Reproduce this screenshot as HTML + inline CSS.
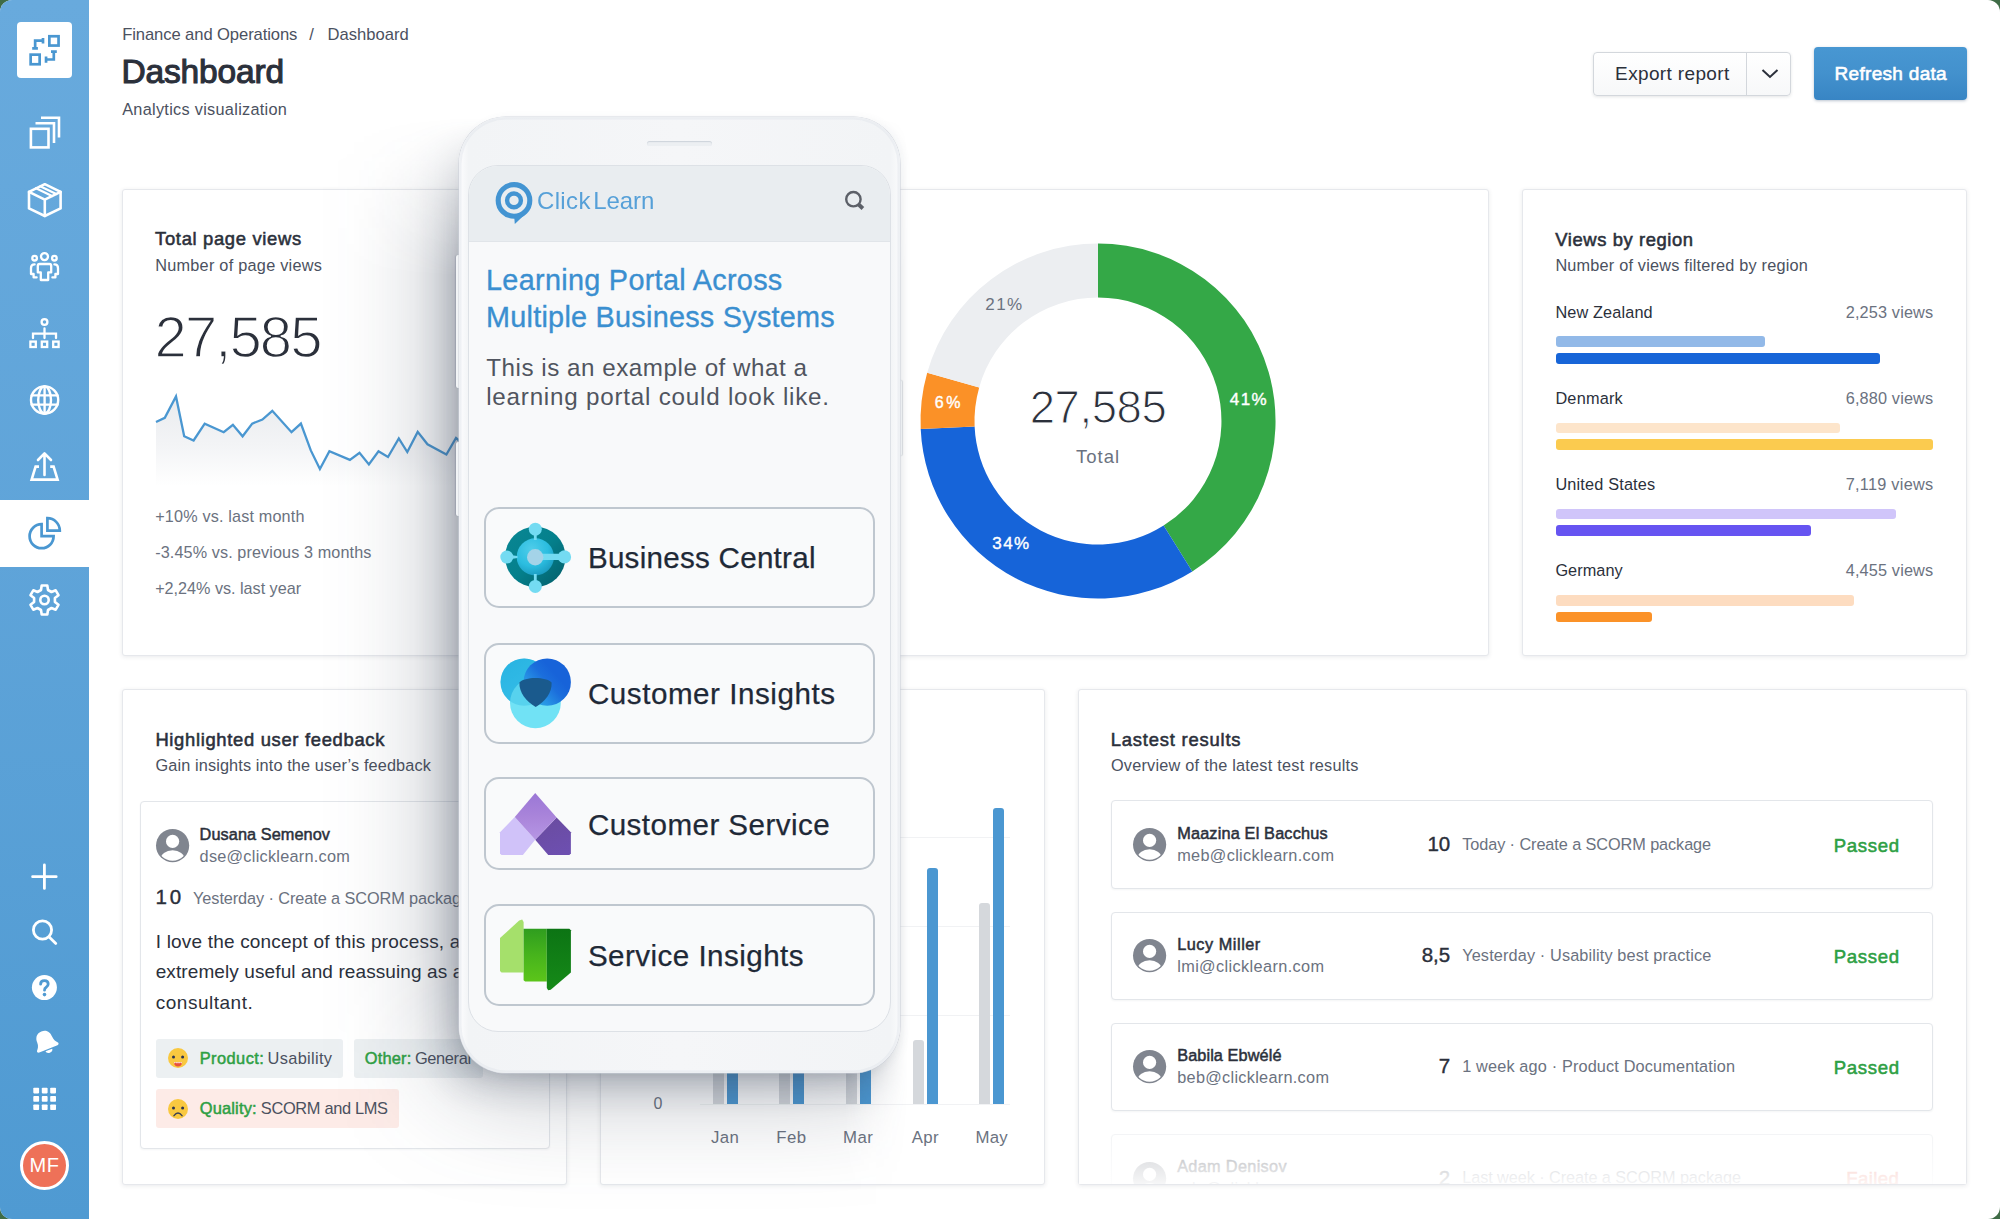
<!DOCTYPE html>
<html>
<head>
<meta charset="utf-8">
<title>Dashboard</title>
<style>
*{box-sizing:border-box;margin:0;padding:0}
html,body{width:2000px;height:1219px;overflow:hidden;background:#3f6c46;font-family:"Liberation Sans",sans-serif;color:#2b303b}
#app{position:absolute;left:0;top:0;width:2000px;height:1219px;background:#fff;border-radius:12px;overflow:hidden}
.abs{position:absolute}
.t{position:absolute;white-space:nowrap}
svg{overflow:visible}
#side{position:absolute;left:0;top:0;width:89px;height:1219px;background:linear-gradient(180deg,#68aadd 0%,#5fa4d9 45%,#4f9ad2 100%)}
#side .logo{position:absolute;left:17px;top:22.4px;width:55px;height:55.4px;background:#fff;border-radius:4px}
#side .active{position:absolute;left:0;top:500px;width:89px;height:67px;background:#fff}
.ic{fill:none;stroke:#fff;stroke-width:2.6;stroke-linecap:round;stroke-linejoin:round}
.icb{fill:none;stroke:#4a97d1;stroke-width:2.6;stroke-linecap:butt;stroke-linejoin:miter}
#avatar{position:absolute;left:20px;top:1141px;width:49px;height:49px;border-radius:50%;background:#ee7158;border:3px solid #fff;color:#fff;font-size:20px;line-height:43px;text-align:center;letter-spacing:.5px}
.btn-exp{position:absolute;left:1593px;top:52px;width:198px;height:44px;border:1px solid #d3d7dc;border-radius:4px;background:linear-gradient(180deg,#fff,#f7f8f9);box-shadow:0 1px 3px rgba(40,50,60,.12)}
.btn-exp .d{position:absolute;left:152px;top:0;width:1px;height:42px;background:#d3d7dc}
.btn-ref{position:absolute;left:1814px;top:47px;width:153px;height:53px;border-radius:4px;background:linear-gradient(180deg,#4897d2 0%,#4391cd 50%,#3885c4 100%);box-shadow:0 1px 3px rgba(30,60,100,.3)}
.card{position:absolute;background:#fff;border:1px solid #e6e8ec;border-radius:3px;box-shadow:0 1px 4px rgba(40,50,70,.10)}
.box{position:absolute;background:#fff;border:1px solid #e3e6ea;border-radius:4px;box-shadow:0 1px 2px rgba(40,50,70,.05)}
.bar{position:absolute;border-radius:3px}
.tag{position:absolute;border-radius:3px}

</style>
</head>
<body>
<div id="app">
<!-- HEADER -->
<div class="t" style="top:23.7px;font-size:16.6px;line-height:21px;color:#4b5160;letter-spacing:-0.09px;left:122.2px;">Finance and Operations</div><div class="t" style="top:23.7px;font-size:16.6px;line-height:21px;color:#4b5160;left:309.2px;">/</div><div class="t" style="top:23.7px;font-size:16.6px;line-height:21px;color:#4b5160;letter-spacing:-0.02px;left:327.6px;">Dashboard</div><div class="t" style="top:51.4px;font-size:33.5px;line-height:42px;color:#2b303b;-webkit-text-stroke:1.1px #2b303b;letter-spacing:-0.15px;left:121.4px;">Dashboard</div><div class="t" style="top:99.0px;font-size:16.3px;line-height:20px;color:#4b5160;letter-spacing:0.29px;left:122.2px;">Analytics visualization</div><div class="btn-exp"><div class="d"></div><svg class="abs" style="left:166px;top:15px" width="20" height="12" viewBox="0 0 20 12"><path d="M2.5 2 L10 9 L17.5 2" fill="none" stroke="#2b303b" stroke-width="2"/></svg></div>
<div class="t" style="top:62.4px;font-size:19px;line-height:24px;color:#2b303b;letter-spacing:0.36px;left:1615.1px;">Export report</div><div class="btn-ref"></div>
<div class="t" style="top:62.4px;font-size:19px;line-height:24px;color:#fff;-webkit-text-stroke:0.6px #fff;letter-spacing:0.30px;left:1834.6px;">Refresh data</div>
<!-- CARD SHELLS -->
<div class="card" style="left:122px;top:189px;width:1367px;height:467px"></div>
<div class="card" style="left:1522px;top:189px;width:445px;height:467px"></div>
<div class="card" style="left:122px;top:689px;width:445px;height:496px"></div>
<div class="card" style="left:600px;top:689px;width:445px;height:496px"></div>
<div class="card" style="left:1078px;top:689px;width:889px;height:496px"></div>

<!-- CARD 1: total page views + donut -->
<div class="t" style="top:227.1px;font-size:18.4px;line-height:23px;color:#2b303b;-webkit-text-stroke:0.55px #2b303b;letter-spacing:0.67px;left:155.1px;">Total page views</div><div class="t" style="top:255.1px;font-size:16.3px;line-height:20px;color:#4b5160;letter-spacing:0.25px;left:155.2px;">Number of page views</div><div class="t" style="top:300.5px;font-size:58px;line-height:72px;color:#2b303b;letter-spacing:-1.91px;left:154.6px;-webkit-text-stroke:1.5px #fff;">27,585</div><div class="t" style="top:505.8px;font-size:16.2px;line-height:20px;color:#6b7280;letter-spacing:0.17px;left:155.2px;">+10% vs. last month</div><div class="t" style="top:542.1px;font-size:16.2px;line-height:20px;color:#6b7280;letter-spacing:0.11px;left:155.2px;">-3.45% vs. previous 3 months</div><div class="t" style="top:578.1px;font-size:16.2px;line-height:20px;color:#6b7280;letter-spacing:-0.02px;left:155.2px;">+2,24% vs. last year</div><svg class="abs" style="left:0;top:0" width="2000" height="1219" viewBox="0 0 2000 1219">
<defs><linearGradient id="spg" x1="0" y1="0" x2="0" y2="1"><stop offset="0" stop-color="#e9ebee"/><stop offset="0.55" stop-color="#f3f4f6"/><stop offset="1" stop-color="#ffffff"/></linearGradient></defs>
<path d="M156.0 422.0 L164.8 417.9 L176.0 396.4 L184.2 436.3 L193.6 440.5 L204.7 423.6 L223.7 432.2 L232.9 424.8 L242.6 436.3 L252.2 423.6 L262.4 419.5 L272.3 410.8 L291.5 432.2 L300.9 423.6 L310.8 450.4 L319.9 469.0 L329.4 451.2 L349.9 459.9 L359.5 452.8 L368.9 464.4 L378.5 451.2 L388.0 457.0 L398.8 438.5 L407.3 452.0 L417.7 431.9 L427.5 444.3 L446.4 454.5 L456.0 438.0 L466.0 446.0 L476.0 436.0 L476 486 L156 486 Z" fill="url(#spg)"/>
<path d="M156.0 422.0 L164.8 417.9 L176.0 396.4 L184.2 436.3 L193.6 440.5 L204.7 423.6 L223.7 432.2 L232.9 424.8 L242.6 436.3 L252.2 423.6 L262.4 419.5 L272.3 410.8 L291.5 432.2 L300.9 423.6 L310.8 450.4 L319.9 469.0 L329.4 451.2 L349.9 459.9 L359.5 452.8 L368.9 464.4 L378.5 451.2 L388.0 457.0 L398.8 438.5 L407.3 452.0 L417.7 431.9 L427.5 444.3 L446.4 454.5 L456.0 438.0 L466.0 446.0 L476.0 436.0" fill="none" stroke="#4a97d1" stroke-width="2.3" stroke-linejoin="miter"/>
<path d="M1098.0 243.5 A177.5 177.5 0 0 1 1192.3 571.4 L1163.6 525.6 A123.5 123.5 0 0 0 1098.0 297.5 Z" fill="#34a847"/>
<path d="M1192.3 571.4 A177.5 177.5 0 0 1 920.7 429.1 L974.6 426.6 A123.5 123.5 0 0 0 1163.6 525.6 Z" fill="#1664d9"/>
<path d="M920.7 429.1 A177.5 177.5 0 0 1 927.2 372.7 L979.2 387.4 A123.5 123.5 0 0 0 974.6 426.6 Z" fill="#fb9127"/>
<path d="M927.2 372.7 A177.5 177.5 0 0 1 1098.0 243.5 L1098.0 297.5 A123.5 123.5 0 0 0 979.2 387.4 Z" fill="#eceef1"/>
</svg>
<div class="t" style="top:379.2px;font-size:45.5px;line-height:57px;color:#2b303b;letter-spacing:-0.43px;left:1098.0px;transform:translateX(-50%);-webkit-text-stroke:1.1px #fff;">27,585</div><div class="t" style="top:445.1px;font-size:18.5px;line-height:23px;color:#6b7280;letter-spacing:0.99px;left:1098.0px;transform:translateX(-50%);">Total</div><div class="t" style="top:389.1px;font-size:17px;line-height:21px;color:#fff;-webkit-text-stroke:0.4px #fff;letter-spacing:1.42px;left:1249.0px;transform:translateX(-50%);">41%</div><div class="t" style="top:533.1px;font-size:17px;line-height:21px;color:#fff;-webkit-text-stroke:0.4px #fff;letter-spacing:1.42px;left:1011.5px;transform:translateX(-50%);">34%</div><div class="t" style="top:393.0px;font-size:16px;line-height:20px;color:#fff;-webkit-text-stroke:0.4px #fff;letter-spacing:2.64px;left:949.0px;transform:translateX(-50%);">6%</div><div class="t" style="top:294.1px;font-size:17px;line-height:21px;color:#6b7280;letter-spacing:1.42px;left:1004.5px;transform:translateX(-50%);">21%</div>
<!-- CARD 2: views by region -->
<div class="t" style="top:228.0px;font-size:18.4px;line-height:23px;color:#2b303b;-webkit-text-stroke:0.55px #2b303b;letter-spacing:0.59px;left:1555.3px;">Views by region</div><div class="t" style="top:254.9px;font-size:16.3px;line-height:20px;color:#4b5160;letter-spacing:0.19px;left:1555.4px;">Number of views filtered by region</div><div class="t" style="top:302.1px;font-size:16.3px;line-height:20px;color:#2b303b;letter-spacing:0.13px;left:1555.4px;">New Zealand</div><div class="t" style="top:302.1px;font-size:16.3px;line-height:20px;color:#6b7280;letter-spacing:0.15px;right:66.7px;">2,253 views</div><div class="bar" style="left:1555.7px;top:336.3px;width:209.6px;height:10.8px;background:#92b9e8"></div><div class="bar" style="left:1555.7px;top:353.1px;width:324.8px;height:10.8px;background:#1765d8"></div>
<div class="t" style="top:388.2px;font-size:16.3px;line-height:20px;color:#2b303b;letter-spacing:0.22px;left:1555.4px;">Denmark</div><div class="t" style="top:388.2px;font-size:16.3px;line-height:20px;color:#6b7280;letter-spacing:0.15px;right:66.7px;">6,880 views</div><div class="bar" style="left:1555.7px;top:422.5px;width:284.8px;height:10.8px;background:#fde5cb"></div><div class="bar" style="left:1555.7px;top:439.3px;width:377.6px;height:10.8px;background:#fbcb4f"></div>
<div class="t" style="top:474.4px;font-size:16.3px;line-height:20px;color:#2b303b;letter-spacing:0.17px;left:1555.4px;">United States</div><div class="t" style="top:474.4px;font-size:16.3px;line-height:20px;color:#6b7280;letter-spacing:0.27px;right:66.6px;">7,119 views</div><div class="bar" style="left:1555.7px;top:508.6px;width:340px;height:10.8px;background:#d0c5fa"></div><div class="bar" style="left:1555.7px;top:525.4px;width:255px;height:10.8px;background:#6654f1"></div>
<div class="t" style="top:560.4px;font-size:16.3px;line-height:20px;color:#2b303b;letter-spacing:0.07px;left:1555.4px;">Germany</div><div class="t" style="top:560.4px;font-size:16.3px;line-height:20px;color:#6b7280;letter-spacing:0.15px;right:66.7px;">4,455 views</div><div class="bar" style="left:1555.7px;top:594.8px;width:298.2px;height:10.8px;background:#fddcc0"></div><div class="bar" style="left:1555.7px;top:611.5px;width:96.8px;height:10.8px;background:#fb9228"></div>

<!-- CARD 3: highlighted user feedback -->
<div class="t" style="top:727.7px;font-size:18.4px;line-height:23px;color:#2b303b;-webkit-text-stroke:0.55px #2b303b;letter-spacing:0.68px;left:155.4px;">Highlighted user feedback</div><div class="t" style="top:754.5px;font-size:16.3px;line-height:20px;color:#4b5160;letter-spacing:0.12px;left:155.5px;">Gain insights into the user&rsquo;s feedback</div><svg class="abs" width="0" height="0"><defs><clipPath id="avc"><circle cx="0" cy="0" r="15.2"/></clipPath></defs></svg><div class="box" style="left:139.5px;top:800.5px;width:410.5px;height:348.5px"></div>
<svg class="abs" style="left:155.8px;top:829.3px;opacity:1" width="33.2" height="33.2" viewBox="-16.6 -16.6 33.2 33.2"><circle cx="0" cy="0" r="16.6" fill="#80858f"/><circle cx="0" cy="-4.2" r="6.6" fill="#fff"/><ellipse cx="0" cy="14.2" rx="12.2" ry="9.6" fill="#fff" clip-path="url(#avc)"/></svg>
<div class="t" style="top:824.2px;font-size:16.3px;line-height:20px;color:#2b303b;-webkit-text-stroke:0.5px #2b303b;letter-spacing:0.07px;left:199.6px;">Dusana Semenov</div><div class="t" style="top:846.1px;font-size:16.3px;line-height:20px;color:#6b7280;letter-spacing:0.25px;left:199.6px;">dse@clicklearn.com</div><div class="t" style="top:883.6px;font-size:20.5px;line-height:26px;color:#2b303b;-webkit-text-stroke:0.4px #2b303b;letter-spacing:2.74px;left:155.6px;">10</div><div class="t" style="top:888.1px;font-size:16.3px;line-height:20px;color:#6b7280;letter-spacing:-0.09px;left:193.1px;">Yesterday &middot; Create a SCORM package</div><div class="t" style="top:929.7px;font-size:19px;line-height:24px;color:#2b303b;letter-spacing:0.19px;left:155.7px;">I love the concept of this process, and</div><div class="t" style="top:960.3px;font-size:19px;line-height:24px;color:#2b303b;letter-spacing:0.10px;left:155.7px;">extremely useful and reassuing as a</div><div class="t" style="top:990.9px;font-size:19px;line-height:24px;color:#2b303b;letter-spacing:0.52px;left:155.7px;">consultant.</div><div class="tag" style="left:155.9px;top:1039px;width:187.2px;height:38.8px;background:#ecf0f2"></div><div class="tag" style="left:354.3px;top:1039px;width:128.5px;height:38.8px;background:#ecf0f2"></div><div class="tag" style="left:155.9px;top:1089.2px;width:243px;height:38.6px;background:#fdebe7"></div>
<svg class="abs" style="left:167.9px;top:1048.4px" width="20" height="20" viewBox="-10 -10 20 20"><circle r="10" fill="#f9c840"/><circle cx="-4.5" cy="-0.9" r="1.5" fill="#2c3350"/><circle cx="4.6" cy="-0.9" r="1.5" fill="#2c3350"/><path d="M-4.2 4.2 H4.2 Q3.6 8.6 0 8.6 Q-3.6 8.6 -4.2 4.2 Z" fill="#e8503c"/><path d="M-4.2 4.2 H4.2 L3.4 5.6 L2.2 4.4 L1 5.6 L0 4.4 L-1 5.6 L-2.2 4.4 L-3.4 5.6 Z" fill="#fff"/></svg>
<svg class="abs" style="left:167.9px;top:1098.8px" width="20" height="20" viewBox="-10 -10 20 20"><circle r="10" fill="#f9c840"/><circle cx="-4.5" cy="-0.9" r="1.5" fill="#2c3350"/><circle cx="4.6" cy="-0.9" r="1.5" fill="#2c3350"/><path d="M-4 6.6 Q0 1.6 4 6.6" fill="none" stroke="#3a3f55" stroke-width="1.5" stroke-linecap="round"/></svg>
<div class="t" style="top:1047.7px;font-size:16.4px;line-height:20px;color:#2ea044;-webkit-text-stroke:0.5px #2ea044;letter-spacing:0.44px;left:199.7px;">Product:</div><div class="t" style="top:1047.7px;font-size:16.4px;line-height:20px;color:#4b5160;letter-spacing:0.31px;left:267.6px;">Usability</div><div class="t" style="top:1047.7px;font-size:16.4px;line-height:20px;color:#2ea044;-webkit-text-stroke:0.5px #2ea044;letter-spacing:0.17px;left:364.8px;">Other:</div><div class="t" style="top:1047.7px;font-size:16.4px;line-height:20px;color:#4b5160;letter-spacing:-0.38px;left:415.0px;">General</div><div class="t" style="top:1097.9px;font-size:16.4px;line-height:20px;color:#2ea044;-webkit-text-stroke:0.5px #2ea044;letter-spacing:0.19px;left:199.7px;">Quality:</div><div class="t" style="top:1097.9px;font-size:16.4px;line-height:20px;color:#4b5160;letter-spacing:-0.33px;left:260.8px;">SCORM and LMS</div>
<!-- CARD 4: bar chart -->
<div class="t" style="top:727.7px;font-size:18.4px;line-height:23px;color:#2b303b;-webkit-text-stroke:0.55px #2b303b;letter-spacing:0.54px;left:633.1px;">Monthly views</div><div class="t" style="top:754.5px;font-size:16.3px;line-height:20px;color:#4b5160;letter-spacing:0.06px;left:633.2px;">Views per month</div><div class="abs" style="left:700px;top:837.0px;width:310px;height:1px;background:#f1f2f4"></div><div class="abs" style="left:700px;top:926.0px;width:310px;height:1px;background:#f1f2f4"></div><div class="abs" style="left:700px;top:1015.0px;width:310px;height:1px;background:#f1f2f4"></div><div class="abs" style="left:700px;top:1104.1px;width:310px;height:1px;background:#f1f2f4"></div>
<div class="t" style="top:1093.8px;font-size:16px;line-height:20px;color:#6b7280;right:1337.7px;">0</div><div class="t" style="top:1004.8px;font-size:16px;line-height:20px;color:#6b7280;right:1337.7px;">50</div><div class="t" style="top:915.8px;font-size:16px;line-height:20px;color:#6b7280;right:1337.7px;">100</div><div class="t" style="top:826.8px;font-size:16px;line-height:20px;color:#6b7280;right:1337.7px;">150</div><div class="abs" style="left:712.7px;top:1020.0px;width:11px;height:84.4px;background:#d5d8dc;border-radius:3px 3px 0 0"></div><div class="abs" style="left:726.6px;top:1000.0px;width:11px;height:104.4px;background:#4b97d1;border-radius:3px 3px 0 0"></div>
<div class="abs" style="left:779.4px;top:1040.0px;width:11px;height:64.4px;background:#d5d8dc;border-radius:3px 3px 0 0"></div><div class="abs" style="left:793.3px;top:985.0px;width:11px;height:119.4px;background:#4b97d1;border-radius:3px 3px 0 0"></div>
<div class="abs" style="left:846.2px;top:1030.0px;width:11px;height:74.4px;background:#d5d8dc;border-radius:3px 3px 0 0"></div><div class="abs" style="left:860.1px;top:940.0px;width:11px;height:164.4px;background:#4b97d1;border-radius:3px 3px 0 0"></div>
<div class="abs" style="left:912.8px;top:1040.4px;width:11px;height:64.0px;background:#d5d8dc;border-radius:3px 3px 0 0"></div><div class="abs" style="left:926.7px;top:868.2px;width:11px;height:236.2px;background:#4b97d1;border-radius:3px 3px 0 0"></div>
<div class="abs" style="left:979.3px;top:903.2px;width:11px;height:201.2px;background:#d5d8dc;border-radius:3px 3px 0 0"></div><div class="abs" style="left:993.2px;top:808.4px;width:11px;height:296.0px;background:#4b97d1;border-radius:3px 3px 0 0"></div>
<div class="t" style="top:1127.4px;font-size:16.8px;line-height:21px;color:#6b7280;letter-spacing:0.39px;left:725.0px;transform:translateX(-50%);">Jan</div><div class="t" style="top:1127.4px;font-size:16.8px;line-height:21px;color:#6b7280;letter-spacing:0.46px;left:791.4px;transform:translateX(-50%);">Feb</div><div class="t" style="top:1127.4px;font-size:16.8px;line-height:21px;color:#6b7280;letter-spacing:0.47px;left:858.2px;transform:translateX(-50%);">Mar</div><div class="t" style="top:1127.4px;font-size:16.8px;line-height:21px;color:#6b7280;letter-spacing:0.46px;left:925.4px;transform:translateX(-50%);">Apr</div><div class="t" style="top:1127.4px;font-size:16.8px;line-height:21px;color:#6b7280;letter-spacing:0.27px;left:991.7px;transform:translateX(-50%);">May</div>
<!-- CARD 5: latest results -->
<div class="t" style="top:727.9px;font-size:18.4px;line-height:23px;color:#2b303b;-webkit-text-stroke:0.55px #2b303b;letter-spacing:0.80px;left:1110.8px;">Lastest results</div><div class="t" style="top:754.6px;font-size:16.3px;line-height:20px;color:#4b5160;letter-spacing:0.23px;left:1110.9px;">Overview of the latest test results</div><div class="abs" style="left:1079px;top:690px;width:887px;height:494px;overflow:hidden">
<div class="abs" style="left:-1079px;top:-690px;width:2000px;height:1219px">
<div class="box" style="left:1110.9px;top:800.4px;width:822.2px;height:88.2px"></div>
<svg class="abs" style="left:1133.4px;top:828.0px;opacity:1" width="33.2" height="33.2" viewBox="-16.6 -16.6 33.2 33.2"><circle cx="0" cy="0" r="16.6" fill="#80858f"/><circle cx="0" cy="-4.2" r="6.6" fill="#fff"/><ellipse cx="0" cy="14.2" rx="12.2" ry="9.6" fill="#fff" clip-path="url(#avc)"/></svg>
<div class="t" style="top:823.0px;font-size:16.3px;line-height:20px;color:#2b303b;-webkit-text-stroke:0.5px #2b303b;letter-spacing:0.17px;left:1177.2px;">Maazina El Bacchus</div><div class="t" style="top:845.0px;font-size:16.3px;line-height:20px;color:#6b7280;letter-spacing:0.32px;left:1177.2px;">meb@clicklearn.com</div><div class="t" style="top:831.1px;font-size:20.5px;line-height:26px;color:#2b303b;-webkit-text-stroke:0.4px #2b303b;right:549.8px;">10</div><div class="t" style="top:834.0px;font-size:16.3px;line-height:20px;color:#6b7280;letter-spacing:-0.09px;left:1462.2px;">Today &middot; Create a SCORM package</div><div class="t" style="top:833.7px;font-size:18.6px;line-height:23px;color:#2ea044;-webkit-text-stroke:0.55px #2ea044;letter-spacing:0.66px;left:1833.7px;">Passed</div><div class="box" style="left:1110.9px;top:911.5px;width:822.2px;height:88.2px"></div>
<svg class="abs" style="left:1133.4px;top:939.1px;opacity:1" width="33.2" height="33.2" viewBox="-16.6 -16.6 33.2 33.2"><circle cx="0" cy="0" r="16.6" fill="#80858f"/><circle cx="0" cy="-4.2" r="6.6" fill="#fff"/><ellipse cx="0" cy="14.2" rx="12.2" ry="9.6" fill="#fff" clip-path="url(#avc)"/></svg>
<div class="t" style="top:934.1px;font-size:16.3px;line-height:20px;color:#2b303b;-webkit-text-stroke:0.5px #2b303b;letter-spacing:0.53px;left:1177.2px;">Lucy Miller</div><div class="t" style="top:956.1px;font-size:16.3px;line-height:20px;color:#6b7280;letter-spacing:0.38px;left:1177.2px;">lmi@clicklearn.com</div><div class="t" style="top:942.2px;font-size:20.5px;line-height:26px;color:#2b303b;-webkit-text-stroke:0.4px #2b303b;right:549.8px;">8,5</div><div class="t" style="top:945.1px;font-size:16.3px;line-height:20px;color:#6b7280;letter-spacing:0.13px;left:1462.2px;">Yesterday &middot; Usability best practice</div><div class="t" style="top:944.8px;font-size:18.6px;line-height:23px;color:#2ea044;-webkit-text-stroke:0.55px #2ea044;letter-spacing:0.66px;left:1833.7px;">Passed</div><div class="box" style="left:1110.9px;top:1022.7px;width:822.2px;height:88.2px"></div>
<svg class="abs" style="left:1133.4px;top:1050.3px;opacity:1" width="33.2" height="33.2" viewBox="-16.6 -16.6 33.2 33.2"><circle cx="0" cy="0" r="16.6" fill="#80858f"/><circle cx="0" cy="-4.2" r="6.6" fill="#fff"/><ellipse cx="0" cy="14.2" rx="12.2" ry="9.6" fill="#fff" clip-path="url(#avc)"/></svg>
<div class="t" style="top:1045.3px;font-size:16.3px;line-height:20px;color:#2b303b;-webkit-text-stroke:0.5px #2b303b;letter-spacing:0.09px;left:1177.2px;">Babila Ebw&eacute;l&eacute;</div><div class="t" style="top:1067.3px;font-size:16.3px;line-height:20px;color:#6b7280;letter-spacing:0.29px;left:1177.2px;">beb@clicklearn.com</div><div class="t" style="top:1053.4px;font-size:20.5px;line-height:26px;color:#2b303b;-webkit-text-stroke:0.4px #2b303b;right:549.8px;">7</div><div class="t" style="top:1056.3px;font-size:16.3px;line-height:20px;color:#6b7280;letter-spacing:0.15px;left:1462.2px;">1 week ago &middot; Product Documentation</div><div class="t" style="top:1056.0px;font-size:18.6px;line-height:23px;color:#2ea044;-webkit-text-stroke:0.55px #2ea044;letter-spacing:0.66px;left:1833.7px;">Passed</div><div class="box" style="left:1110.9px;top:1133.8px;width:822.2px;height:88.2px"></div>
<svg class="abs" style="left:1133.4px;top:1161.5px;opacity:1" width="33.2" height="33.2" viewBox="-16.6 -16.6 33.2 33.2"><circle cx="0" cy="0" r="16.6" fill="#80858f"/><circle cx="0" cy="-4.2" r="6.6" fill="#fff"/><ellipse cx="0" cy="14.2" rx="12.2" ry="9.6" fill="#fff" clip-path="url(#avc)"/></svg>
<div class="t" style="top:1156.4px;font-size:16.3px;line-height:20px;color:#2b303b;-webkit-text-stroke:0.5px #2b303b;letter-spacing:0.32px;left:1177.2px;">Adam Denisov</div><div class="t" style="top:1178.4px;font-size:16.3px;line-height:20px;color:#6b7280;letter-spacing:0.29px;left:1177.2px;">ade@clicklearn.com</div><div class="t" style="top:1164.5px;font-size:20.5px;line-height:26px;color:#2b303b;-webkit-text-stroke:0.4px #2b303b;right:549.8px;">2</div><div class="t" style="top:1167.4px;font-size:16.3px;line-height:20px;color:#6b7280;letter-spacing:-0.08px;left:1462.2px;">Last week &middot; Create a SCORM package</div><div class="t" style="top:1167.1px;font-size:18.6px;line-height:23px;color:#e5533d;-webkit-text-stroke:0.55px #e5533d;letter-spacing:0.40px;left:1846.3px;">Failed</div><div class="abs" style="left:1079px;top:1112px;width:887px;height:72px;background:linear-gradient(180deg,rgba(255,255,255,0) 0%,rgba(255,255,255,.56) 28%,rgba(255,255,255,.79) 72%,rgba(255,255,255,.93) 100%)"></div>
</div></div>

<!-- SIDEBAR -->
<div id="side"><div class="logo"></div><div class="active"></div>
<svg class="abs" style="left:0;top:0" width="89" height="1219" viewBox="0 0 89 1219">
<!-- logo -->
<g class="icb" style="stroke-width:2.7">
<rect x="49.35" y="36.25" width="9.2" height="9.3"/>
<rect x="30.65" y="54.65" width="9.0" height="9.6"/>
<path d="M32.2 48.4 H37.9 M35.15 48.4 V40.6 H43 M43 37.9 V43.5"/>
<path d="M51 51.7 H56.8 M53.8 51.7 V59.5 H46 M46.05 56.6 V62.7"/>
</g>
<!-- stacked squares -->
<g class="ic" style="stroke-linejoin:miter;stroke-linecap:butt">
<rect x="30.9" y="128.8" width="17.6" height="18.6"/>
<path d="M35.5 123.2 H54 V143"/>
<path d="M41 117.8 H59 V137.5"/>
</g>
<!-- box -->
<g class="ic">
<path d="M44.8 184.2 L60.6 191.8 V208.4 L44.8 216 L29 208.4 V191.8 Z"/>
<path d="M29 191.8 L44.8 199.6 L60.6 191.8 M44.8 199.6 V216"/>
<path d="M36 188.2 L52 196 M40.2 186.3 L56.2 194" style="stroke-width:2.2"/>
</g>
<!-- people -->
<g class="ic" style="stroke-width:2.3">
<circle cx="44.5" cy="256.6" r="3.5"/>
<circle cx="34.6" cy="258.2" r="2.3"/>
<circle cx="54.4" cy="258.2" r="2.3"/>
<path d="M39.6 264 H49.4 Q51.2 264 51.2 265.8 V272.4 H48.2 V280 H40.8 V272.4 H37.8 V265.8 Q37.8 264 39.6 264 Z"/>
<path d="M34.6 264.4 Q31 264.4 31 268 V274 H33.6 V277.4 H36.6"/>
<path d="M54.4 264.4 Q58 264.4 58 268 V274 H55.4 V277.4 H52.4"/>
</g>
<!-- org chart -->
<g class="ic" style="stroke-width:2.3;stroke-linejoin:miter">
<circle cx="44.5" cy="322" r="2.9"/>
<path d="M44.5 328.5 V338 M33 338 V333.6 H56 V338"/>
<rect x="30.4" y="341.6" width="5.4" height="5.4"/>
<rect x="41.8" y="341.6" width="5.4" height="5.4"/>
<rect x="53.2" y="341.6" width="5.4" height="5.4"/>
</g>
<!-- globe -->
<g class="ic" style="stroke-width:2.4">
<circle cx="44.6" cy="400" r="13.6"/>
<ellipse cx="44.6" cy="400" rx="6.4" ry="13.6"/>
<path d="M44.6 386.4 V413.6 M31.6 395.4 H57.6 M31.6 404.6 H57.6"/>
</g>
<!-- upload -->
<g class="ic" style="stroke-linejoin:miter;stroke-linecap:butt">
<path d="M44.5 475 V454 M38 460 L44.5 453.4 L51 460" style="stroke-linecap:round;stroke-linejoin:round"/>
<path d="M39 466.6 H35.6 L31.6 479.6 H57.6 L53.6 466.6 H50.2"/>
</g>
<!-- pie (active) -->
<g class="icb" style="stroke-width:2.7">
<path d="M41.6 524.2 A12 12 0 1 0 53.6 536.2 H41.6 Z"/>
<path d="M47.4 530.6 V518.2 A12.4 12.4 0 0 1 59.8 530.6 Z"/>
</g>
<!-- gear -->
<g class="ic" style="stroke-width:2.6">
<path d="M41.0 590.0 L41.7 585.5 L47.3 585.5 L48.0 590.0 L51.5 592.0 L55.7 590.3 L58.5 595.2 L54.9 598.0 L54.9 602.0 L58.5 604.8 L55.7 609.7 L51.5 608.0 L48.0 610.0 L47.3 614.5 L41.7 614.5 L41.0 610.0 L37.5 608.0 L33.3 609.7 L30.5 604.8 L34.1 602.0 L34.1 598.0 L30.5 595.2 L33.3 590.3 L37.5 592.0Z"/>
<circle cx="44.5" cy="600" r="4.2"/>
</g>
<!-- plus -->
<g class="ic" style="stroke-width:2.8">
<path d="M44.4 865 V888.4 M32.6 876.7 H56.2"/>
</g>
<!-- search -->
<g class="ic" style="stroke-width:2.8">
<circle cx="42.5" cy="930" r="9.1"/>
<path d="M49.4 937.2 L55.8 943.4"/>
</g>
<!-- help -->
<circle cx="44.4" cy="987.6" r="12.5" fill="#fff"/>
<path d="M40.6 984.2 Q40.6 980.6 44.4 980.6 Q48.2 980.6 48.2 984 Q48.2 986 46.2 987.2 Q44.5 988.2 44.5 990.2" fill="none" stroke="#4f9ad2" stroke-width="2.8" stroke-linecap="round"/>
<circle cx="44.5" cy="994.6" r="1.8" fill="#4f9ad2"/>
<!-- bell -->
<g transform="rotate(-22 45.6 1042)" fill="#fff">
<path d="M45.6 1030.6 C51.4 1030.6 53.6 1035 53.6 1039.4 C53.6 1043.4 55.4 1045.4 56.6 1046.6 C57.6 1047.6 57.2 1049.4 55.4 1049.4 H35.8 C34 1049.4 33.6 1047.6 34.6 1046.6 C35.8 1045.4 37.6 1043.4 37.6 1039.4 C37.6 1035 39.8 1030.6 45.6 1030.6 Z"/>
<path d="M42 1050.6 H49.2 C49.2 1054.4 42 1054.4 42 1050.6 Z"/>
</g>
<!-- grid -->
<g fill="#fff">
<rect x="33.3" y="1087.8" width="5.8" height="5.6" rx="0.8"/><rect x="41.8" y="1087.8" width="5.8" height="5.6" rx="0.8"/><rect x="50.2" y="1087.8" width="5.8" height="5.6" rx="0.8"/><rect x="33.3" y="1096.1" width="5.8" height="5.6" rx="0.8"/><rect x="41.8" y="1096.1" width="5.8" height="5.6" rx="0.8"/><rect x="50.2" y="1096.1" width="5.8" height="5.6" rx="0.8"/><rect x="33.3" y="1104.4" width="5.8" height="5.6" rx="0.8"/><rect x="41.8" y="1104.4" width="5.8" height="5.6" rx="0.8"/><rect x="50.2" y="1104.4" width="5.8" height="5.6" rx="0.8"/></g>
</svg>
<div id="avatar">MF</div>
</div>

<!-- PHONE -->
<div class="abs" style="left:0;top:0;width:2000px;height:1219px;-webkit-mask-image:linear-gradient(180deg,transparent 118px,rgba(0,0,0,.22) 150px,rgba(0,0,0,.6) 200px,#000 275px);mask-image:linear-gradient(180deg,transparent 118px,rgba(0,0,0,.22) 150px,rgba(0,0,0,.6) 200px,#000 275px)">
<div class="abs" style="left:0;top:0;width:2000px;height:1219px;-webkit-mask-image:linear-gradient(90deg,#000 0,#000 845px,transparent 908px);mask-image:linear-gradient(90deg,#000 0,#000 845px,transparent 908px)">
<div class="abs" style="left:459px;top:117px;width:440.5px;height:955.5px;border-radius:14px;background:rgba(46,58,78,.43);filter:blur(22px)"></div>
<div class="abs" style="left:459px;top:117px;width:440.5px;height:955.5px;border-radius:14px;background:rgba(46,58,78,.45);filter:blur(60px)"></div>
</div></div>
<div class="abs" style="left:455.6px;top:255px;width:6px;height:133px;border-radius:2px;background:#f3f5f7;box-shadow:-1px 0 1px rgba(120,130,145,.35)"></div>
<div class="abs" style="left:455.6px;top:442px;width:6px;height:74px;border-radius:2px;background:#f3f5f7;box-shadow:-1px 0 1px rgba(120,130,145,.35)"></div>
<div class="abs" style="left:896px;top:380px;width:5.5px;height:76px;border-radius:2px;background:#f3f5f7;box-shadow:1px 0 1px rgba(120,130,145,.25)"></div>
<div id="phone" class="abs" style="left:459px;top:117px;width:440.5px;height:955.5px;border-radius:47px;background:linear-gradient(90deg,#fdfdfe 0%,#f2f4f6 2.2%,#f5f6f8 50%,#f2f4f6 97.8%,#fafbfc 100%);box-shadow:0 0 0 0.6px rgba(205,210,218,.9),3px 1px 8px rgba(90,100,120,.07),inset 0 0 0 2.5px rgba(226,230,236,.5),inset 0 0 3px rgba(255,255,255,.9)"></div>
<div class="abs" style="left:646.5px;top:141px;width:65px;height:5px;border-radius:3px;background:#eceff2;box-shadow:inset 0 1px 1px rgba(150,160,175,.35)"></div>
<div id="screen" class="abs" style="left:467.5px;top:164.5px;width:423.5px;height:867.3px;border-radius:30px;background:#f8f9fa;border:1px solid #dde1e6;overflow:hidden">
<div class="abs" style="left:0;top:0;width:423px;height:76.5px;background:#e9edf0;border-bottom:1px solid #e1e5e9"></div>
</div>
<svg class="abs" style="left:0;top:0" width="2000" height="1219" viewBox="0 0 2000 1219">
<g fill="none" stroke="#4394d2">
<circle cx="514" cy="200.4" r="15.8" stroke-width="5.1"/>
<circle cx="514" cy="200.4" r="6.9" stroke-width="4.4"/>
</g>
<path d="M514.2 216.5 L514.8 224 L526.5 213 Z" fill="#4394d2"/>
<g fill="none" stroke="#5c6068" stroke-linecap="butt"><circle cx="853.4" cy="199.2" r="7.2" stroke-width="2.4"/><path d="M858.6 204.6 L862.9 208.4" stroke-width="4"/></g>
</svg>
<div class="t" style="top:185.9px;font-size:24px;line-height:30px;color:#4a9ad6;letter-spacing:0.41px;left:536.9px;opacity:.92;">Click</div><div class="t" style="top:185.9px;font-size:24px;line-height:30px;color:#4a9ad6;letter-spacing:-0.06px;left:593.2px;opacity:.92;">Learn</div><div class="t" style="top:261.6px;font-size:28.8px;line-height:36px;color:#3a8fd0;-webkit-text-stroke:0.35px #3a8fd0;letter-spacing:0.31px;left:486.0px;">Learning Portal Across</div><div class="t" style="top:299.4px;font-size:28.8px;line-height:36px;color:#3a8fd0;-webkit-text-stroke:0.35px #3a8fd0;letter-spacing:0.26px;left:486.0px;">Multiple Business Systems</div><div class="t" style="top:353.2px;font-size:24.2px;line-height:30px;color:#50555f;letter-spacing:0.53px;left:486.2px;">This is an example of what a</div><div class="t" style="top:382.4px;font-size:24.2px;line-height:30px;color:#50555f;letter-spacing:0.78px;left:486.2px;">learning portal could look like.</div><div class="abs" style="left:484.3px;top:506.6px;width:391px;height:101.9px;border:2px solid #bfc7cf;border-radius:15px;background:#f9fafb"></div>
<div class="t" style="top:539.3px;font-size:29.6px;line-height:37px;color:#1f2937;-webkit-text-stroke:0.25px #1f2937;letter-spacing:0.26px;left:587.9px;">Business Central</div><div class="abs" style="left:484.3px;top:642.5px;width:391px;height:101.5px;border:2px solid #bfc7cf;border-radius:15px;background:#f9fafb"></div>
<div class="t" style="top:674.7px;font-size:29.6px;line-height:37px;color:#1f2937;-webkit-text-stroke:0.25px #1f2937;letter-spacing:0.54px;left:587.9px;">Customer Insights</div><div class="abs" style="left:484.3px;top:777.4px;width:391px;height:92.6px;border:2px solid #bfc7cf;border-radius:15px;background:#f9fafb"></div>
<div class="t" style="top:805.6px;font-size:29.6px;line-height:37px;color:#1f2937;-webkit-text-stroke:0.25px #1f2937;letter-spacing:0.44px;left:587.9px;">Customer Service</div><div class="abs" style="left:484.3px;top:904.3px;width:391px;height:101.5px;border:2px solid #bfc7cf;border-radius:15px;background:#f9fafb"></div>
<div class="t" style="top:936.6px;font-size:29.6px;line-height:37px;color:#1f2937;-webkit-text-stroke:0.25px #1f2937;letter-spacing:0.45px;left:587.9px;">Service Insights</div><svg class="abs" style="left:0;top:0" width="2000" height="1219" viewBox="0 0 2000 1219">
<defs>
<radialGradient id="bcmid" cx="0.4" cy="0.3" r="0.8"><stop offset="0" stop-color="#4fcdea"/><stop offset="0.55" stop-color="#2bbde0"/><stop offset="1" stop-color="#1792b8"/></radialGradient>
<linearGradient id="bcring" x1="0" y1="0" x2="1" y2="1"><stop offset="0" stop-color="#0a8794"/><stop offset="0.5" stop-color="#04808c"/><stop offset="1" stop-color="#045c68"/></linearGradient>
<linearGradient id="ciL" x1="0" y1="0" x2="0.6" y2="1"><stop offset="0" stop-color="#28b2e2"/><stop offset="1" stop-color="#3fc4ea"/></linearGradient>
<linearGradient id="ciR" x1="0" y1="0.85" x2="0.85" y2="0.1"><stop offset="0" stop-color="#2fb4e8"/><stop offset="0.3" stop-color="#2690e4"/><stop offset="0.55" stop-color="#1b6edc"/><stop offset="0.75" stop-color="#1763d9"/></linearGradient>
<linearGradient id="csT" x1="0.5" y1="0" x2="0.5" y2="1"><stop offset="0" stop-color="#9b77d6"/><stop offset="0.5" stop-color="#a984da"/><stop offset="1" stop-color="#b696e4"/></linearGradient>
<linearGradient id="csR" x1="0.3" y1="0" x2="0.7" y2="1"><stop offset="0" stop-color="#6a4ca0"/><stop offset="1" stop-color="#6d4fb0"/></linearGradient>
<linearGradient id="siM" x1="0.5" y1="0" x2="0.5" y2="1"><stop offset="0" stop-color="#2f9d1f"/><stop offset="0.5" stop-color="#47b41c"/><stop offset="1" stop-color="#5cc51a"/></linearGradient>
<linearGradient id="siR" x1="0.5" y1="0" x2="0.5" y2="1"><stop offset="0" stop-color="#0c7414"/><stop offset="1" stop-color="#168a18"/></linearGradient>
<clipPath id="ciClipL"><circle cx="524.2" cy="682.1" r="23.7"/></clipPath>
<clipPath id="ciClipR"><circle cx="547.2" cy="682.1" r="23.7"/></clipPath>
</defs>
<!-- Business Central -->
<circle cx="535.3" cy="556.9" r="30.2" fill="url(#bcring)"/>
<circle cx="535.3" cy="556.9" r="18.6" fill="url(#bcmid)"/>
<g fill="#74dbf2">
<path d="M533.9 529 H536.7 V540 H533.9 Z M533.9 574 H536.7 V586 H533.9 Z"/>
<path d="M507 554.6 L517.5 556 V558 L507 559.6 Z"/>
<rect x="538" y="553.7" width="26" height="6.4" rx="2"/>
<circle cx="535.3" cy="529.2" r="6.5"/><circle cx="535.3" cy="586.4" r="6.5"/>
<circle cx="506.8" cy="557.1" r="6.5"/><circle cx="564.5" cy="556.9" r="6.6"/>
</g>
<circle cx="535.2" cy="557.3" r="8.2" fill="#a4d3e8"/>
<!-- Customer Insights -->
<circle cx="524.2" cy="682.1" r="23.7" fill="url(#ciL)"/>
<circle cx="535.4" cy="702.9" r="25.4" fill="#71e2f5"/>
<circle cx="524.2" cy="682.1" r="23.7" fill="#29b4e2" opacity="0.35" />
<circle cx="547.2" cy="682.1" r="23.7" fill="url(#ciR)"/>
<path d="M519.4 682.6 C524.5 676.6 546.3 676.6 551.6 682.6 C552.2 692.5 545.2 702 535.7 707 C526.2 702 519 692.5 519.4 682.6 Z" fill="#1a5a8d"/>
<!-- Customer Service -->
<polygon points="514.8,817.0 535.2,839.7 522.9,854.9 501.5,854.9 500.0,853.4 500.0,832.3" fill="#d0c2f9"/>
<polygon points="556.6,817.5 570.9,832.3 570.9,853.4 569.4,854.9 548.2,854.9 535.2,839.7" fill="url(#csR)"/>
<polygon points="535.2,792.9 556.6,817.5 535.2,839.7 514.8,817.0" fill="url(#csT)"/>
<!-- Service Insights -->
<polygon points="500.0,938.1 519.2,920.4 522.2,919.6 523.6,922.1 523.6,972.5 501.5,972.5 500.0,971.1" fill="#a5e06b"/>
<polygon points="523.6,928.7 546.8,928.7 546.8,981.6 525.1,981.6 523.6,980.2" fill="url(#siM)"/>
<polygon points="546.8,928.7 569.4,928.7 570.9,930.2 570.9,972.5 550.7,989.8 548.2,990.2 546.8,988.0" fill="url(#siR)"/>
</svg>

</div>
</body>
</html>
